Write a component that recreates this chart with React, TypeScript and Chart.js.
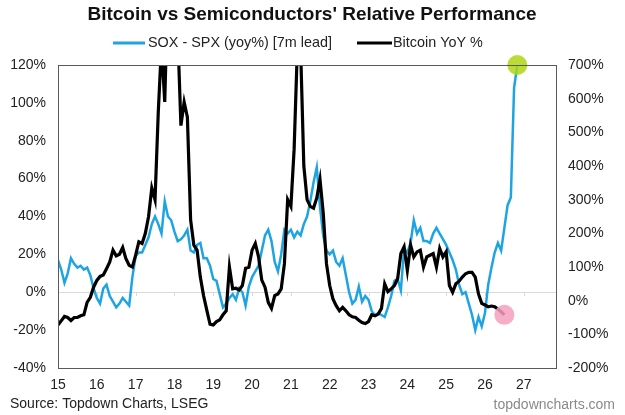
import React, { useEffect, useRef } from "react";
import { Chart, registerables } from "chart.js";

Chart.register(...registerables);

// Monthly series, first point = January 2015
const START_YEAR = 2015;
const X_MAX = 2027.83;

const YEAR_TICKS = [2015, 2016, 2017, 2018, 2019, 2020, 2021, 2022, 2023, 2024, 2025, 2026, 2027];
const YEAR_LABELS = ["15", "16", "17", "18", "19", "20", "21", "22", "23", "24", "25", "26", "27"];

const TITLE = "Bitcoin vs Semiconductors' Relative Performance";
const SOX_LABEL = "SOX - SPX (yoy%) [7m lead]";
const BTC_LABEL = "Bitcoin YoY %";
const SOURCE = "Source: Topdown Charts, LSEG";
const BRAND = "topdowncharts.com";

// SOX minus SPX year-over-year (%), shifted forward 7 months — left axis
const SOX_SPX = [
  17, 12, 5, 10, 18, 15, 13, 14, 12, 13, 9, 2,
  -3, -6, 2, 4, -2, -5, -8, -6, -3, -5, -7, 8,
  19, 21, 21, 25, 29, 36, 40, 36, 31, 48, 40, 38,
  32, 27, 28, 30, 33, 22, 21, 25, 26, 18, 18, 14,
  7, 6, -1, -8, -6, -3, -1, -4, 2, 0, -7, 3,
  8, 11, 14, 22, 30, 33, 27, 16, 11, 20, 33, 31,
  33, 29, 32, 30, 36, 40, 48, 58, 66, 45, 30, 22,
  20, 22, 16, 14, 18, 9, 0, -6, -4, 3, -5, -2,
  -4, -10, -12, -11, -12, -13, -8, -2, 6, 7, 1, 23,
  21, 26, 38, 31, 34, 27, 27, 26, 31, 34, 31, 28,
  25, 21, 17, 12, 4, -1, 0, -6, -12, -20, -13, -18,
  -11, 4, 13, 21, 26, 22, 34, 46, 50, 108, 120,
];

// Bitcoin year-over-year (%) — right axis
const BITCOIN_YOY = [
  -72, -60, -47, -50, -59, -50, -50, -45, -42, -5, 10, 40,
  60, 72, 76, 95, 115, 150, 133, 138, 158, 125, 105, 100,
  135, 175, 170, 200, 250, 335, 300, 560, 760, 590, 950, 1300,
  1400, 800, 520, 590, 545, 240, 165, 150, 70, 15, -28, -70,
  -72, -62, -57, -42, -30, 100, 35, 37, 32, 45, 96, 99,
  150, 170, 130, 61, 40, -5, -23, 15, 20, 35, 110, 300,
  280, 450, 750, 750, 400, 300, 280, 275, 305, 360, 260, 110,
  45, 5, -15, -30, -20, -30, -42, -48, -50, -58, -65, -68,
  -62, -42, -45, -40, -23, 50, 27, 35, 45, 65, 140, 160,
  90, 165, 130, 145, 150, 100, 130, 135, 140, 100, 155, 130,
  145, 45, 25, 50, 58, 70, 80, 84, 84, 70, 20, -8,
  -13, -18, -16, -18, -25, -33, -42,
];

const BLUE = "#1ea5e1";
const BLACK = "#000000";
const FONT = '"Liberation Sans", Arial, sans-serif';

const toPoints = (values: number[]) =>
  values.map((v, i) => ({ x: START_YEAR + i / 12, y: v }));

const lastPoint = (values: number[]) => {
  const pts = toPoints(values);
  return [pts[pts.length - 1]];
};

// Frame, zero line, title, legend and footer
const decorations = {
  id: "decorations",
  beforeDatasetsDraw(chart: any) {
    const { ctx, chartArea, scales } = chart;
    const y0 = scales.y.getPixelForValue(0);
    ctx.save();
    ctx.strokeStyle = "#d9d9d9";
    ctx.lineWidth = 1;
    ctx.beginPath();
    ctx.moveTo(chartArea.left, Math.round(y0) + 0.5);
    ctx.lineTo(chartArea.right, Math.round(y0) + 0.5);
    for (const yr of YEAR_TICKS) {
      const x = Math.round(scales.x.getPixelForValue(yr)) + 0.5;
      ctx.moveTo(x, Math.round(y0));
      ctx.lineTo(x, Math.round(y0) + 4);
    }
    ctx.stroke();
    ctx.restore();
  },
  afterDraw(chart: any) {
    const { ctx, chartArea } = chart;
    ctx.save();
    // plot frame
    ctx.strokeStyle = "#5a5a5a";
    ctx.lineWidth = 1;
    ctx.strokeRect(
      Math.round(chartArea.left) + 0.5,
      Math.round(chartArea.top) + 0.5,
      Math.round(chartArea.right - chartArea.left),
      Math.round(chartArea.bottom - chartArea.top)
    );

    // title
    ctx.fillStyle = "#111";
    ctx.textBaseline = "middle";
    ctx.textAlign = "center";
    ctx.font = `bold 19px ${FONT}`;
    ctx.fillText(TITLE, 312, 15);

    // legend
    const ly = 43;
    ctx.font = `14.4px ${FONT}`;
    ctx.textAlign = "left";
    ctx.lineWidth = 3;
    ctx.strokeStyle = BLUE;
    ctx.beginPath();
    ctx.moveTo(113, ly);
    ctx.lineTo(145, ly);
    ctx.stroke();
    ctx.fillStyle = "#222";
    ctx.fillText(SOX_LABEL, 148, ly);
    ctx.strokeStyle = BLACK;
    ctx.beginPath();
    ctx.moveTo(357, ly);
    ctx.lineTo(392, ly);
    ctx.stroke();
    ctx.fillText(BTC_LABEL, 393, ly);

    // footer
    ctx.font = `14px ${FONT}`;
    ctx.fillStyle = "#222";
    ctx.fillText(SOURCE, 10, 404);
    ctx.textAlign = "right";
    ctx.fillStyle = "#8a8a8a";
    ctx.fillText(BRAND, 615, 405);
    ctx.restore();
  },
};

export default function App() {
  const canvasRef = useRef<HTMLCanvasElement | null>(null);

  useEffect(() => {
    if (!canvasRef.current) return;
    const tickFont = { family: FONT, size: 14 };
    const chart = new Chart(canvasRef.current, {
      type: "line",
      data: {
        datasets: [
          {
            type: "scatter",
            label: "SOX end",
            data: lastPoint(SOX_SPX),
            yAxisID: "y",
            pointRadius: 10,
            pointBackgroundColor: "rgba(175, 214, 20, 0.85)",
            pointBorderWidth: 0,
            clip: false,
            order: 0,
          },
          {
            type: "scatter",
            label: "Bitcoin end",
            data: lastPoint(BITCOIN_YOY),
            yAxisID: "y2",
            pointRadius: 10,
            pointBackgroundColor: "rgba(245, 160, 190, 0.85)",
            pointBorderWidth: 0,
            clip: false,
            order: 0,
          },
          {
            label: BTC_LABEL,
            data: toPoints(BITCOIN_YOY),
            yAxisID: "y2",
            borderColor: BLACK,
            borderWidth: 3.2,
            pointRadius: 0,
            tension: 0,
            order: 1,
          },
          {
            label: SOX_LABEL,
            data: toPoints(SOX_SPX),
            yAxisID: "y",
            borderColor: BLUE,
            borderWidth: 2.5,
            pointRadius: 0,
            tension: 0,
            order: 2,
          },
        ],
      },
      options: {
        responsive: false,
        animation: false,
        events: [],
        layout: { padding: { top: 65, left: 0, right: 0, bottom: 0 } },
        plugins: {
          legend: { display: false },
          title: { display: false },
          tooltip: { enabled: false },
        },
        scales: {
          x: {
            type: "linear",
            min: START_YEAR,
            max: X_MAX,
            afterBuildTicks: (scale: any) => {
              scale.ticks = YEAR_TICKS.map((v) => ({ value: v }));
            },
            afterFit: (scale: any) => {
              scale.height = 47;
            },
            ticks: {
              autoSkip: false,
              maxRotation: 0,
              padding: 9,
              color: "#222",
              font: tickFont,
              callback: (v: any) => YEAR_LABELS[YEAR_TICKS.indexOf(Number(v))],
            },
            grid: { display: false, drawTicks: false },
            border: { display: false },
          },
          y: {
            position: "left",
            min: -40,
            max: 120,
            afterFit: (scale: any) => {
              scale.width = 58;
            },
            ticks: {
              stepSize: 20,
              padding: 12,
              color: "#222",
              font: tickFont,
              callback: (v: any) => `${v}%`,
            },
            grid: { display: false, drawTicks: false },
            border: { display: false },
          },
          y2: {
            position: "right",
            min: -200,
            max: 700,
            afterFit: (scale: any) => {
              scale.width = 69;
            },
            ticks: {
              stepSize: 100,
              padding: 12,
              color: "#222",
              font: tickFont,
              callback: (v: any) => `${v}%`,
            },
            grid: { display: false, drawTicks: false },
            border: { display: false },
          },
        },
      },
      plugins: [decorations],
    } as any);
    return () => chart.destroy();
  }, []);

  return (
    <div style={{ position: "fixed", left: 0, top: 0, width: 625, height: 415, background: "#fff" }}>
      <canvas ref={canvasRef} width={625} height={415} style={{ display: "block" }} />
    </div>
  );
}
